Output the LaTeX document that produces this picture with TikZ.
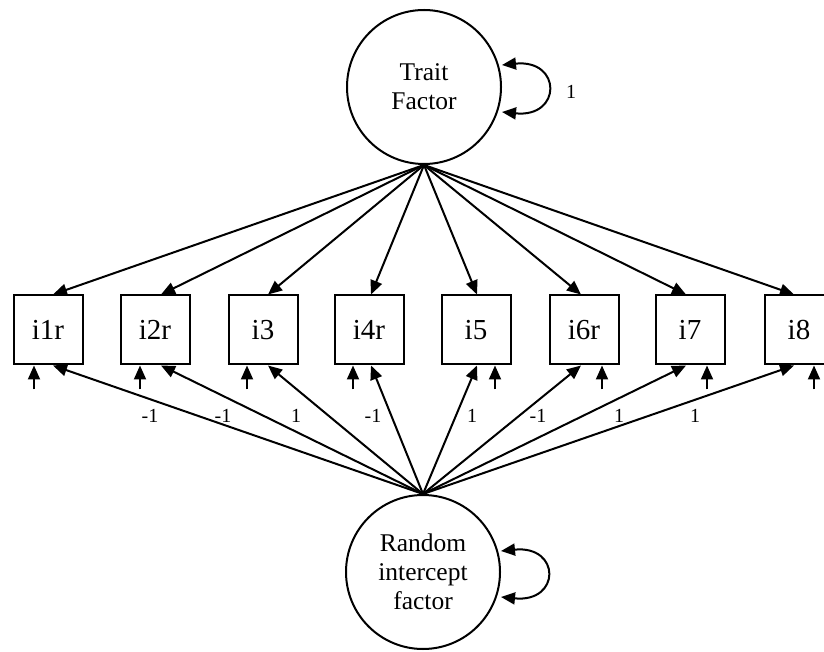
\documentclass[tikz,border=0pt]{standalone}
\usepackage{fontspec}
\setmainfont{Liberation Serif}
\usetikzlibrary{arrows.meta,positioning}

\begin{document}
\begin{tikzpicture}[x=1pt, y=1pt, line width=2pt,
  >={Triangle[length=14pt,width=12pt]},
  factor/.style={draw, circle, minimum size=154pt, inner sep=0pt, align=center,
    font=\fontsize{25.5}{29}\selectfont},
  item/.style={draw, rectangle, minimum size=69pt, inner sep=0pt,
    font=\fontsize{29}{32}\selectfont},
  wt/.style={font=\fontsize{20}{22}\selectfont}]
  \useasboundingbox (0,0) rectangle (824,651);

  % Latent factors.
  \node[factor] (trait) at (424,564) {Trait\\Factor};
  \node[factor] (rif) at (423,79) {Random\\intercept\\factor};

  % Items: residuals, trait loadings and fixed intercept weights.
  \foreach \n/\x/\s/\t/\lx/\w in {
    i1r/48/-14/5/150/-1,
    i2r/155/-15/6/223/-1,
    i3/263/-16/5/296/1,
    i4r/369/-16/2/373/-1,
    i5/476/19/1/472/1,
    i6r/584/18/-3/538/-1,
    i7/690/17/-4/619/1,
    i8/799/15/-5/695/1
  }{
    \node[item] (\n) at (\x,321) {\n};
    \coordinate (e\n) at ([xshift=\s,yshift=-24]\n.south);
    \draw[->] (e\n) -- ([xshift=\s]\n.south);
    \draw[->] (trait.south) -- ([xshift=\t]\n.north);
    \draw[->] (rif.north) -- ([xshift=\t]\n.south);
    \node[wt] (w\n) at (\lx,235) {\w};
  }

  % Variances.
  \draw[<->] ([yshift=22]trait.east) .. controls +(60,6) and +(60,-6) .. ([yshift=-25]trait.east);
  \node[wt] (vtrait) at (571,559) {1};
  \draw[<->] ([yshift=21]rif.east) .. controls +(60,6) and +(60,-6) .. ([yshift=-25]rif.east);
\end{tikzpicture}
\end{document}
